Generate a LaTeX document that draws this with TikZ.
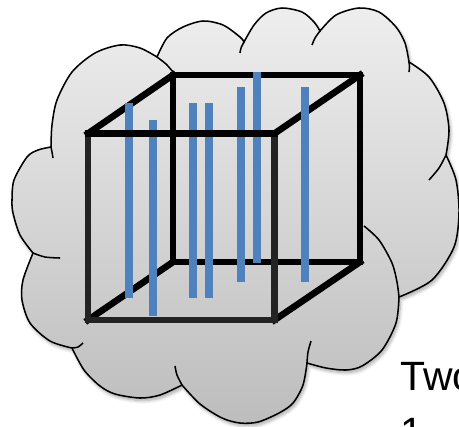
\documentclass[tikz,border=0pt]{standalone}
\usepackage{fontspec}
\setmainfont{Liberation Sans}
\usetikzlibrary{shadows.blur}
\definecolor{barblue}{HTML}{4F81BD}
\definecolor{cloudtop}{HTML}{EEEEEE}
\definecolor{cloudbot}{HTML}{BDBDBD}
\definecolor{frontgray}{HTML}{232323}
\begin{document}
\begin{tikzpicture}[x=0.75pt,y=-0.75pt,
  cloudline/.style={line width=1.15pt, draw=black},
  cubeedge/.style={line width=4.95pt, line cap=rect, line join=miter, draw=black},
  frontedge/.style={cubeedge, draw=frontgray},
  rod/.style={fill=barblue},
  label/.style={anchor=base west, inner sep=0pt, font=\fontsize{30.7}{40}\selectfont}]
\useasboundingbox (0,0) rectangle (459,426);
\clip (0,0) rectangle (459,426);

% cloud body, bump by bump (clockwise from the upper left cusp)
\path[top color=cloudtop, bottom color=cloudbot, cloudline,
      blur shadow={shadow xshift=1.2pt, shadow yshift=-2pt, shadow blur radius=2.5pt, shadow blur steps=8, shadow opacity=35}]
  plot[smooth] coordinates {(51,147) (52,125) (57,100) (72,72) (95,53) (120,45) (140,48) (157,57)}
  -- plot[smooth] coordinates {(157,57) (167,38) (183,27) (203,21) (223,25) (240,37) (244,42)}
  -- plot[smooth] coordinates {(244,42) (254,25) (266,13) (282,8) (302,12) (314,22) (320,31)}
  -- plot[smooth] coordinates {(320,31) (336,15) (359,8) (379,12) (396,27) (405,43) (409,62)}
  -- plot[smooth] coordinates {(409,62) (429,77) (444,103) (449,130) (446,155)}
  -- plot[smooth] coordinates {(446,155) (456,180) (459,213) (454,247) (432,280) (399,297)}
  -- plot[smooth] coordinates {(399,297) (396,323) (382,350) (362,366) (346,370) (326,368) (307,363)}
  -- plot[smooth] coordinates {(307,363) (303,385) (293,403) (279,413) (258,422) (240,423) (222,418) (200,404) (182,385)}
  -- plot[smooth] coordinates {(182,385) (160,395) (140,398) (115,394) (100,386) (84,370) (72,348)}
  -- plot[smooth] coordinates {(72,348) (50,341) (30,323) (22,300) (23,280) (33,253)}
  -- plot[smooth] coordinates {(33,253) (20,235) (13,213) (12,200) (14,180) (27,157) (38,150) (51,147)}
  -- cycle;

% short arc ends that run on past the cusps
\draw[cloudline] plot[smooth] coordinates {(53,158) (52,152) (51,147)};
\draw[cloudline] plot[smooth] coordinates {(157,57) (166,64) (173,72)};
\draw[cloudline] plot[smooth] coordinates {(240,53) (241,48) (244,42)};
\draw[cloudline] plot[smooth] coordinates {(312,45) (315,38) (320,31)};
\draw[cloudline] plot[smooth] coordinates {(409,62) (409.5,67) (409,72)};
\draw[cloudline] plot[smooth] coordinates {(446,155) (439,168) (429,180)};
\draw[cloudline] plot[smooth] coordinates {(364,226) (379,240) (392,263) (397,282) (399,297)};
\draw[cloudline] plot[smooth] coordinates {(311,341) (308,352) (307,363)};
\draw[cloudline] plot[smooth] coordinates {(182,385) (177,375) (175,366)};
\draw[cloudline] plot[smooth] coordinates {(72,348) (78,347) (83,343)};
\draw[cloudline] plot[smooth] coordinates {(33,253) (45,257) (60,258)};

% cube corners
\coordinate (ftl) at (88,133.5);
\coordinate (ftr) at (274.5,133.5);
\coordinate (fbr) at (274.5,320);
\coordinate (fbl) at (88,320);
\coordinate (btl) at (173,75);
\coordinate (btr) at (360,75);
\coordinate (bbr) at (360,262);
\coordinate (bbl) at (173,262);

% back face and receding edges
\draw[cubeedge] (btl) -- (btr) -- (bbr) -- (bbl) -- cycle;
\draw[cubeedge] (ftl) -- (btl);
\draw[cubeedge] (ftr) -- (btr);
\draw[cubeedge] (fbr) -- (bbr);
\draw[cubeedge] (fbl) -- (bbl);
% front face
\draw[frontedge] (ftl) -- (fbl) -- (fbr) -- (ftr);

% vertical rods
\fill[rod] (125,102.7) rectangle (133,298.3);
\fill[rod] (149.3,120) rectangle (157.3,315.7);
\fill[rod] (189,102.7) rectangle (197,298.3);
\fill[rod] (205,102.7) rectangle (213,298.3);
\fill[rod] (236.8,86.7) rectangle (244.8,282.3);
\fill[rod] (253.3,71.7) rectangle (261.3,263.3);
\fill[rod] (301,86.7) rectangle (309,282.3);

% front top edge lies over the rods
\draw[cubeedge] (ftl) -- (ftr);

% caption, running off the right edge
\node[label] (two) at (400,390) {Two};
\node[label] (one) at (400,446) {1};
\end{tikzpicture}
\end{document}
